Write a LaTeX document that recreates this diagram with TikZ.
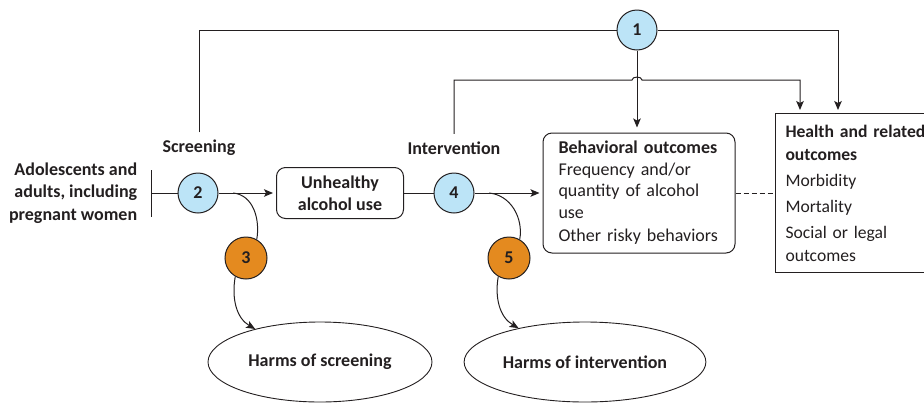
\documentclass[tikz,border=0pt]{standalone}
\usepackage{fontspec}
\setmainfont{Carlito}
\usetikzlibrary{arrows.meta,shapes.geometric}
\definecolor{ink}{HTML}{231F20}
\definecolor{kqblue}{HTML}{BCE4F7}
\definecolor{kqorange}{HTML}{E48A1F}
\newcommand\kqfont{\fontsize{18}{22.5}\selectfont}

\begin{document}
\begin{tikzpicture}[x=1pt,y=-1pt,line width=1pt,color=ink,font=\kqfont]

                \tikzset{kq/.style = {shape=circle,draw,fill=kqblue,minimum size=40pt,inner sep=0pt,font=\kqfont\bfseries}}
                \tikzset{harm/.style = {kq,fill=kqorange,minimum size=42pt}}
                \tikzset{box/.style = {draw,rounded corners=9pt}}
                \tikzset{oval/.style = {shape=ellipse,draw,line width=0.9pt,minimum width=224pt,minimum height=80pt,font=\kqfont\bfseries}}
                \tikzset{edge/.style = {->,>={Stealth[length=9pt,width=7.5pt,inset=2pt]}}}
                \useasboundingbox (0,0) rectangle (924,405);

                \node[kq] (n1) at (637,30) {1};
                \node[kq] (n2) at (198,193) {2};
                \node[harm] (n3) at (246,258) {3};
                \node[kq] (n4) at (454,193) {4};
                \node[harm] (n5) at (509,258) {5};

                \node[anchor=east,align=right,font=\kqfont\bfseries] (pop) at (141,193) {Adolescents and\\adults, including\\pregnant women};
                \node[font=\kqfont\bfseries] (scr) at (199,148) {Screening};
                \node[font=\kqfont\bfseries] (int) at (454,148) {Intervention};
                \node[box,minimum width=127pt,minimum height=51pt,align=center,font=\kqfont\bfseries] (unh) at (340,193) {Unhealthy\\alcohol use};
                \node[box,text width=161pt,inner xsep=15.5pt,minimum height=120pt,align=left,font=\fontsize{18}{21.5}\selectfont] (beh) at (639,193)
                    {\textbf{Behavioral outcomes}\\Frequency and/or\\quantity of alcohol\\use\\[2pt]Other risky behaviors};
                \node[draw,anchor=north west,text width=170pt,inner xsep=10pt,minimum height=159pt,align=left,font=\fontsize{17.6}{23}\selectfont] (hlt) at (775,113)
                    {\textbf{Health and related}\\\textbf{outcomes}\\[3pt]Morbidity\\[3pt]Mortality\\[3pt]Social or legal\\outcomes};
                \node[oval] (ell1) at (320,362) {Harms of screening};
                \node[oval] (ell2) at (585,362) {Harms of intervention};

                \coordinate (bar1) at (151,170);
                \coordinate (bar2) at (151,217);
                \coordinate (k2) at (233,193);
                \coordinate (k4) at (489,193);
                \coordinate (hop1) at (632,80);
                \coordinate (hop2) at (642,80);
                \coordinate (h1) at (838,110);
                \coordinate (h2) at (800,110);

                \draw (bar1) -- (bar2);
                \draw (bar1 |- n2) -- (n2);
                \draw[edge,shorten >=3pt] (n2) -- (unh);
                \draw (unh) -- (n4);
                \draw[edge,shorten >=3pt] (n4) -- (beh);
                \draw[dash pattern=on 5pt off 3pt] (beh) -- (beh -| hlt.west);

                \draw[shorten <=4pt] (scr) |- (n1);
                \draw[edge] (n1) -| (h1);
                \draw[edge,shorten >=5pt] (n1) -- (n1 |- beh.north);
                \draw[edge,shorten <=4pt] (int) |- (hop1) to[out=90,in=90] (hop2) -| (h2);

                \draw (k2) to[out=-5,in=80] (n3.60);
                \draw[edge] (n3.-120) to[out=-100,in=150] (ell1.153);
                \draw (k4) to[out=-5,in=80] (n5.60);
                \draw[edge] (n5.-120) to[out=-100,in=150] (ell2.153);

            \end{tikzpicture}
\end{document}
